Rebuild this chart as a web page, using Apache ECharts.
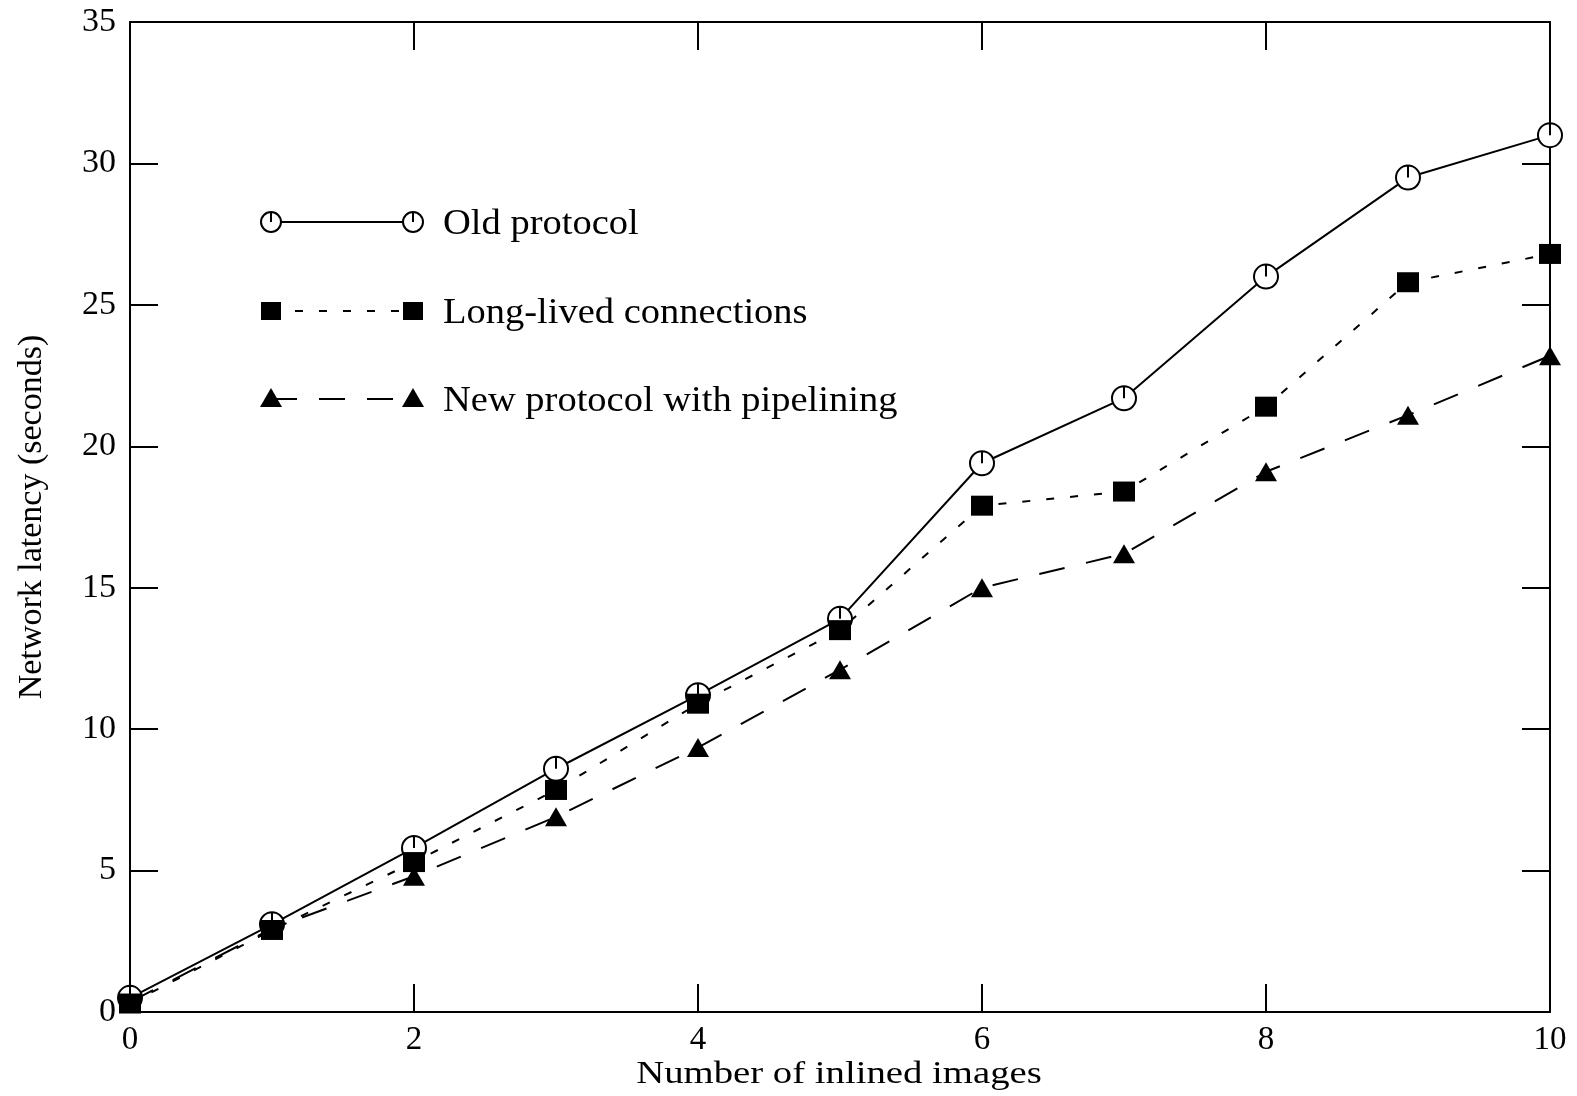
<html>
<head>
<script type="text/javascript" src="https://cdn.jsdelivr.net/npm/echarts@6/dist/echarts.min.js"></script>
<style type="text/css">
	html, body { margin:0; padding:0; background:#fff; }
	#chart { width:1577px; height:1096px; }
</style>
<title>Network latency</title>
</head>
<body>
<div id="chart"></div>
<script type="text/javascript">

// values
var images = [0, 1, 2, 3, 4, 5, 6, 7, 8, 9, 10];
var oldProtocol = [0.5, 3.1, 5.8, 8.6, 11.2, 13.9, 19.4, 21.7, 26.0, 29.5, 31.0];
var longLived = [0.3, 2.9, 5.3, 7.85, 10.9, 13.5, 17.9, 18.4, 21.4, 25.8, 26.8];
var pipelining = [0.35, 2.95, 4.8, 6.9, 9.35, 12.1, 15.0, 16.2, 19.1, 21.1, 23.2];
var seriesNames = ['Old protocol', 'Long-lived connections', 'New protocol with pipelining'];
var xTitle = 'Number of inlined images';
var yTitle = 'Network latency (seconds)';

var FONT = 'Liberation Serif';
var circleSym = 'path://M10,0A10,10 0 1,1 -10,0A10,10 0 1,1 10,0ZM0,-10L0,0';

function pairs(vals) {
	return images.map(function(x, i){ return [x, vals[i]]; });
}

// legend drawn by hand, two symbols at the ends of the line like the original
function legendRow(y, dash, sym, name) {
	var items = [];
	var xs = [271, 413];
	items.push({
		type:'line', shape:{x1:xs[0], y1:y, x2:xs[1], y2:y},
		style:{stroke:'#000', lineWidth:2, lineDash:dash}
	});
	xs.forEach(function(cx){
		if (sym === 'circle') {
			items.push({type:'circle', shape:{cx:cx, cy:y, r:10},
				style:{fill:'#fff', stroke:'#000', lineWidth:2}});
			items.push({type:'line', shape:{x1:cx, y1:y-10, x2:cx, y2:y},
				style:{stroke:'#000', lineWidth:2}});
		} else if (sym === 'rect') {
			items.push({type:'rect', shape:{x:cx-10, y:y-9, width:20, height:18},
				style:{fill:'#000'}});
		} else {
			items.push({type:'polygon', shape:{points:[[cx, y-11], [cx+11, y+8], [cx-11, y+8]]},
				style:{fill:'#000'}});
		}
	});
	items.push({
		type:'text', x:443, y:y+3, scaleX:1.1,
		style:{text:name, font:'35px "' + FONT + '"', fill:'#000', verticalAlign:'middle'}
	});
	return items;
}

var graphics = [].concat(
	legendRow(222, null, 'circle', seriesNames[0]),
	legendRow(311, [8, 16], 'rect', seriesNames[1]),
	legendRow(399, [26, 22], 'tri', seriesNames[2])
);
// x title: the original lettering is stretched sideways
graphics.push({
	type:'text', x:839, y:1075, scaleX:1.25,
	style:{text:xTitle, font:'31px "' + FONT + '"', fill:'#000', align:'center', verticalAlign:'middle'}
});

var axisLine = {show:true, onZero:false, lineStyle:{color:'#000', width:2}};
var axisTick = {show:true, inside:true, length:28, lineStyle:{color:'#000', width:2}};

option = {
	animation:false,
	backgroundColor:'#fff',
	grid:{left:130, top:22, right:27, bottom:84, outerBoundsMode:'none', containLabel:false},
	xAxis:[{
		type:'value', min:0, max:10, interval:2,
		axisLine:axisLine, axisTick:axisTick, splitLine:{show:false},
		axisLabel:{fontFamily:FONT, fontSize:33, color:'#000', margin:3}
	}, {
		type:'value', min:0, max:10, interval:2, position:'top',
		axisLine:axisLine, axisTick:axisTick, splitLine:{show:false},
		axisLabel:{show:false}
	}],
	yAxis:[{
		type:'value', min:0, max:35, interval:5,
		name:yTitle, nameLocation:'middle', nameGap:72, nameMoveOverlap:false,
		nameTextStyle:{fontFamily:FONT, fontSize:34, color:'#000'},
		axisLine:axisLine, axisTick:axisTick, splitLine:{show:false},
		axisLabel:{fontFamily:FONT, fontSize:34, color:'#000', margin:14}
	}, {
		type:'value', min:0, max:35, interval:5, position:'right',
		axisLine:axisLine, axisTick:axisTick, splitLine:{show:false},
		axisLabel:{show:false}
	}],
	series:[{
		name:seriesNames[0], type:'line', data:pairs(oldProtocol),
		symbol:circleSym, symbolSize:24, z:3,
		lineStyle:{color:'#000', width:2},
		itemStyle:{color:'#fff', borderColor:'#000', borderWidth:2}
	}, {
		name:seriesNames[1], type:'line', data:pairs(longLived),
		symbol:'rect', symbolSize:[22, 20],
		lineStyle:{color:'#000', width:2, type:[8, 16]},
		itemStyle:{color:'#000'}
	}, {
		name:seriesNames[2], type:'line', data:pairs(pipelining),
		symbol:'triangle', symbolSize:[22, 19],
		lineStyle:{color:'#000', width:2, type:[26, 22]},
		itemStyle:{color:'#000'}
	}],
	graphic:graphics
};

var myChart = echarts.init(document.getElementById("chart"));
myChart.setOption(option);
</script>
</body>
</html>
